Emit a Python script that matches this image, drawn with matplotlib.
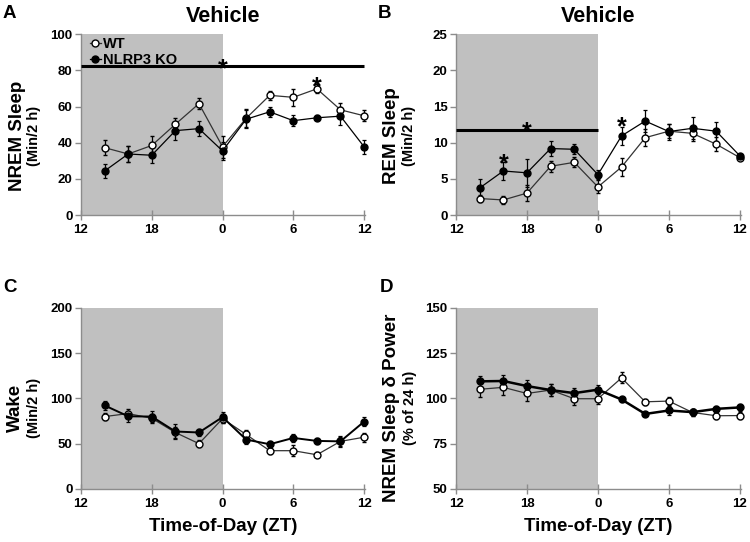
import matplotlib

matplotlib.use("Agg")
import matplotlib.pyplot as plt
from matplotlib.lines import Line2D
from matplotlib.transforms import offset_copy

plt.rcParams["font.family"] = ["Liberation Sans", "DejaVu Sans"]
plt.rcParams["font.weight"] = "bold"

# hours after lights-off (ZT12); ticks relabelled as clock ZT
hours = [2, 4, 6, 8, 10, 12, 14, 16, 18, 20, 22, 24]
tick_pos = [0, 6, 12, 18, 24]
tick_labels = ["12", "18", "0", "6", "12"]

nrem_wt = [37.3, 33.8, 38.5, 50.2, 61.6, 37.8, 53.5, 66.2, 65.1, 69.8, 58.2, 54.9]
nrem_wt_sem = [4, 4.5, 5, 3.6, 3.2, 6, 5, 2.5, 4.8, 2.5, 3.6, 3]
nrem_ko = [24.4, 33.8, 33.1, 46.7, 47.8, 35.5, 53.0, 57.1, 52.2, 53.8, 54.7, 37.8]
nrem_ko_sem = [3.8, 4.5, 4.5, 5, 4, 5, 5, 2.7, 3.2, 1.4, 5, 3.8]

rem_wt = [2.3, 2.1, 3.05, 6.75, 7.3, 3.9, 6.65, 10.7, 11.6, 11.3, 9.8, 7.95]
rem_wt_sem = [0.5, 0.5, 1.15, 0.8, 0.7, 0.9, 1.3, 1.2, 1.0, 1.0, 1.0, 0.3]
rem_ko = [3.75, 6.1, 5.85, 9.2, 9.1, 5.6, 10.95, 13.0, 11.55, 12.0, 11.6, 8.2]
rem_ko_sem = [1.2, 1.2, 1.9, 1.05, 0.7, 0.65, 1.2, 1.5, 1.1, 1.5, 1.3, 0.3]

wake_wt = [79.9, 83.2, 78.0, 62.3, 50.0, 77.6, 60.1, 42.2, 42.2, 37.7, 52.5, 57.1]
wake_wt_sem = [4, 5, 5, 6, 4, 5, 5, 4, 6, 3, 5, 5]
wake_ko = [92.2, 80.2, 79.9, 63.4, 62.3, 79.3, 54.5, 49.3, 56.3, 53.0, 52.5, 74.3]
wake_ko_sem = [5, 6, 6, 8, 4, 6, 5, 4, 4, 3, 6, 5]

delta_wt = [105.0, 106.1, 102.7, 104.6, 99.8, 99.8, 111.3, 98.1, 98.5, 92.2, 90.4, 90.5]
delta_wt_sem = [4, 4, 4, 3.5, 3.5, 3, 3, 1.5, 2, 2, 2, 2]
delta_ko = [109.4, 109.6, 106.8, 104.6, 102.9, 104.8, 99.4, 91.4, 93.3, 92.4, 94.2, 95.0]
delta_ko_sem = [3, 3.5, 3.5, 3.5, 3, 2.5, 1.5, 1, 2.5, 2, 1.5, 2]

SPINE = "#8c8c8c"
SHADE = "#c0c0c0"
MS = 5


def draw_panel(ax, wt, wt_sem, ko, ko_sem, ylim, yticks, ko_lw=0.9):
    ax.axvspan(0, 12, color=SHADE, lw=0, zorder=0)
    ax.errorbar(hours, wt, yerr=wt_sem, color="#333333", lw=0.9, marker="o", ms=MS,
                mfc="white", mec="black", mew=1.0, ecolor="black", elinewidth=0.9,
                capsize=1.5, capthick=0.9, clip_on=False, zorder=3)
    ax.errorbar(hours, ko, yerr=ko_sem, color="black", lw=ko_lw, marker="o", ms=MS,
                mfc="black", mec="black", ecolor="black", elinewidth=0.9,
                capsize=1.5, capthick=0.9, clip_on=False, zorder=3)
    ax.set_xlim(0, 24.1)
    ax.set_ylim(*ylim)
    ax.set_yticks(yticks)
    ax.set_xticks(tick_pos)
    ax.set_xticklabels(tick_labels)
    for side in ("top", "right"):
        ax.spines[side].set_visible(False)
    for side in ("left", "bottom"):
        ax.spines[side].set_color(SPINE)
        ax.spines[side].set_linewidth(1.0)
    ax.tick_params(axis="y", direction="out", length=4, width=1, color=SPINE,
                   labelsize=9.5, pad=2)
    ax.tick_params(axis="x", direction="inout", length=7, width=1, color=SPINE,
                   labelsize=9.5, pad=3)
    for lab in ax.get_xticklabels() + ax.get_yticklabels():
        lab.set_fontweight("bold")


def add_star(ax, x, y):
    # y is the visual centre of the asterisk
    tr = offset_copy(ax.transData, fig=ax.figure, y=-12, units="points")
    ax.text(x, y, "*", transform=tr, ha="center", va="baseline", fontsize=18,
            fontweight="bold", zorder=5)


def ylabels(ax, main, sub, y=0.44, xm=-0.225, xs=-0.165):
    ax.text(xm, y, main, transform=ax.transAxes, rotation=90, ha="center",
            va="center", fontsize=13.5, fontweight="bold")
    ax.text(xs, y, sub, transform=ax.transAxes, rotation=90, ha="center",
            va="center", fontsize=10.5, fontweight="bold")


fig = plt.figure(figsize=(7.5, 5.42), dpi=100)
ax_a = fig.add_axes([0.108, 0.603, 0.379, 0.334])
ax_b = fig.add_axes([0.608, 0.603, 0.380, 0.334])
ax_c = fig.add_axes([0.108, 0.098, 0.379, 0.334])
ax_d = fig.add_axes([0.608, 0.098, 0.380, 0.334])

draw_panel(ax_a, nrem_wt, nrem_wt_sem, nrem_ko, nrem_ko_sem, (0, 100), [0, 20, 40, 60, 80, 100])
draw_panel(ax_b, rem_wt, rem_wt_sem, rem_ko, rem_ko_sem, (0, 25), [0, 5, 10, 15, 20, 25])
draw_panel(ax_c, wake_wt, wake_wt_sem, wake_ko, wake_ko_sem, (0, 200), [0, 50, 100, 150, 200], ko_lw=1.4)
draw_panel(ax_d, delta_wt, delta_wt_sem, delta_ko, delta_ko_sem, (50, 150), [50, 75, 100, 125, 150], ko_lw=1.8)

# significance bars and stars
ax_a.plot([0, 24], [82.5, 82.5], color="black", lw=2.2, solid_capstyle="butt", zorder=4)
add_star(ax_a, 12, 86)
add_star(ax_a, 20, 76)
ax_b.plot([0, 12], [11.8, 11.8], color="black", lw=2.2, solid_capstyle="butt", zorder=4)
add_star(ax_b, 6, 12.8)
add_star(ax_b, 4, 8.4)
add_star(ax_b, 14, 13.4)

handles = [
    Line2D([], [], color="#333333", lw=0.9, marker="o", ms=MS, mfc="white", mec="black"),
    Line2D([], [], color="black", lw=0.9, marker="o", ms=MS, mfc="black", mec="black"),
]
ax_a.legend(handles, ["WT", "NLRP3 KO"], loc="upper left", bbox_to_anchor=(0.02, 1.0),
            frameon=False, handlelength=0.8, handletextpad=0.15, labelspacing=0.15,
            borderaxespad=0.0, borderpad=0.2, prop={"size": 10.5, "weight": "bold"})

ylabels(ax_a, "NREM Sleep", "(Min/2 h)")
ylabels(ax_b, "REM Sleep", "(Min/2 h)")
ylabels(ax_c, "Wake", "(Min/2 h)", y=0.447, xm=-0.23)
ylabels(ax_d, "NREM Sleep \u03b4 Power", "(% of 24 h)", y=0.447, xm=-0.225, xs=-0.16)

for ax in (ax_a, ax_b):
    ax.set_title("Vehicle", fontsize=15.5, fontweight="bold", pad=9)
for ax in (ax_c, ax_d):
    ax.set_xlabel("Time-of-Day (ZT)", fontsize=13.5, fontweight="bold", labelpad=6)

for letter, (fx, fy) in zip("ABCD", [(0.004, 0.967), (0.504, 0.967), (0.004, 0.462), (0.506, 0.462)]):
    fig.text(fx, fy, letter, fontsize=13.5, fontweight="bold", ha="left", va="baseline")

fig.savefig("out.png", dpi=100)
